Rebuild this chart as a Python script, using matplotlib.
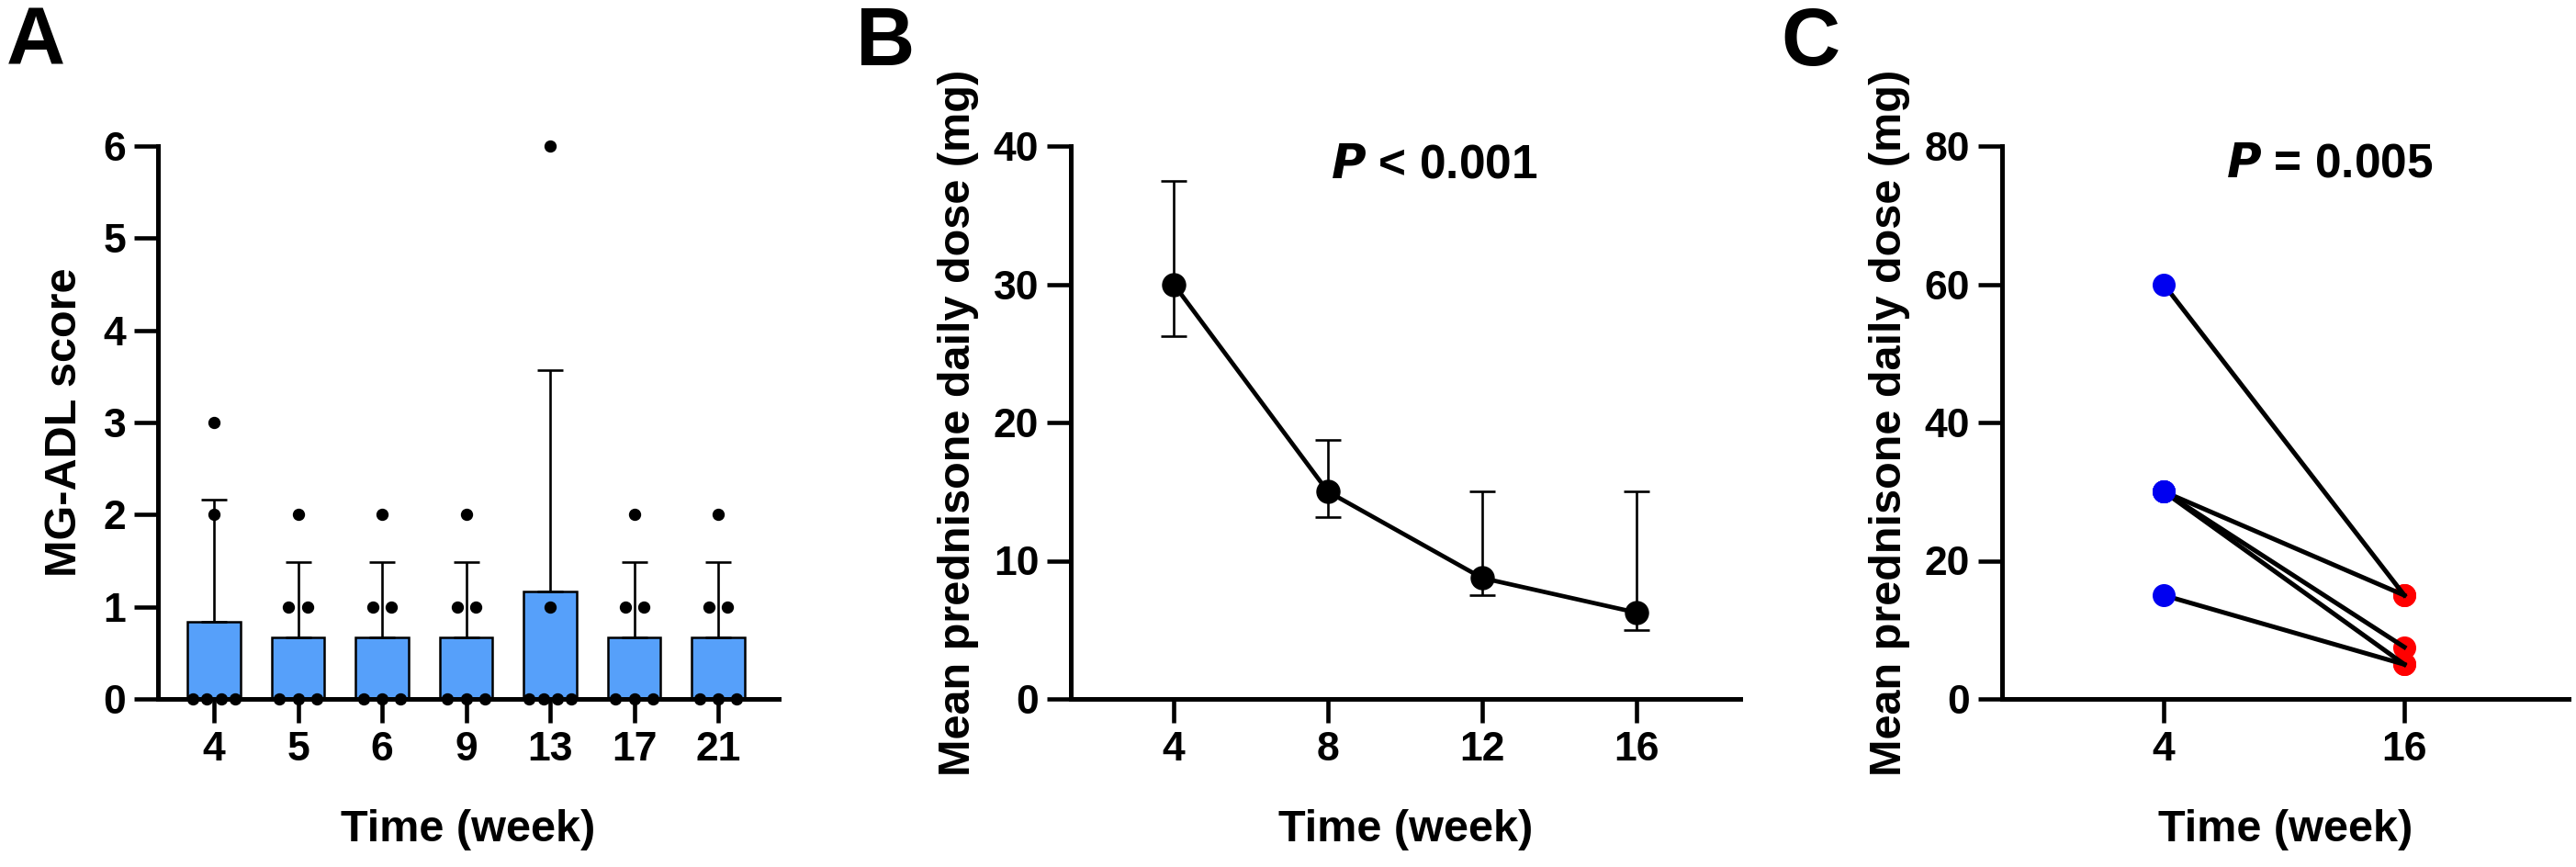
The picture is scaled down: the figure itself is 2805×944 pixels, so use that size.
import numpy as np
import matplotlib
matplotlib.use('Agg')
import matplotlib.pyplot as plt

plt.rcParams['font.family'] = ['Liberation Sans', 'DejaVu Sans']
plt.rcParams['font.weight'] = 'bold'

# panel A: MG-ADL score of each patient per week
weeks_a = ['4', '5', '6', '9', '13', '17', '21']
mg_adl_scores = [
    [0, 0, 0, 0, 2, 3],
    [0, 0, 0, 1, 1, 2],
    [0, 0, 0, 1, 1, 2],
    [0, 0, 0, 1, 1, 2],
    [0, 0, 0, 0, 1, 6],
    [0, 0, 0, 1, 1, 2],
    [0, 0, 0, 1, 1, 2],
]

# panel B: prednisone dose (centre + error range)
weeks_b = [4, 8, 12, 16]
dose_center = [30, 15, 8.75, 6.25]
dose_low = [26.25, 13.125, 7.5, 5]
dose_high = [37.5, 18.75, 15, 15]

# panel C: paired doses, week 4 vs week 16
weeks_c = ['4', '16']
dose_wk4 = [60, 30, 30, 30, 15]
dose_wk16 = [15, 15, 7.5, 5, 5]

bar_color = '#56A0FA'
spine_w = 3.6
tick_fs = 32
label_fs = 35

fig = plt.figure(figsize=(28.05, 9.44), dpi=100)
H = 944.0
W = 2805.0
y_bot, y_top = 761, 159


def make_ax(x0, x1):
    ax = fig.add_axes([x0 / W, (H - y_bot) / H, (x1 - x0) / W, (y_bot - y_top) / H])
    for s in ['top', 'right']:
        ax.spines[s].set_visible(False)
    for s in ['left', 'bottom']:
        ax.spines[s].set_linewidth(spine_w)
    ax.tick_params(width=3.3, length=19, labelsize=tick_fs, pad=6)
    return ax


# ---- A ----
axA = make_ax(172, 848)
xa = np.arange(len(weeks_a))
means = np.array([np.mean(v) for v in mg_adl_scores])
sds = np.array([np.std(v, ddof=1) for v in mg_adl_scores])
axA.bar(xa, means, width=0.63, color=bar_color, edgecolor='black', linewidth=1.8, zorder=2)
axA.errorbar(xa, means, yerr=[np.zeros_like(sds), sds], fmt='none', ecolor='black',
             elinewidth=1.9, capsize=10, capthick=1.9, zorder=3)
for i, vals in enumerate(mg_adl_scores):
    for v in sorted(set(vals)):
        n = vals.count(v)
        step = min(0.22, 0.66 / n)
        offs = (np.arange(n) - (n - 1) / 2) * step
        axA.plot(i + offs, [v] * n, 'o', color='black', markersize=8.6, zorder=5, clip_on=False)
axA.set_xlim(-0.667, 6.72)
axA.set_ylim(0, 6)
axA.set_xticks(xa)
axA.set_xticklabels(weeks_a, fontweight='bold')
axA.set_yticks(range(0, 7))
axA.set_yticklabels([str(t) for t in range(0, 7)], fontweight='bold')
axA.set_xlabel('Time (week)', fontsize=label_fs, fontweight='bold', labelpad=32)
axA.set_ylabel('MG-ADL score', fontsize=label_fs, fontweight='bold', labelpad=14)

# ---- B ----
axB = make_ax(1166, 1895)
yerr_b = [np.array(dose_center) - np.array(dose_low), np.array(dose_high) - np.array(dose_center)]
axB.errorbar(weeks_b, dose_center, yerr=yerr_b, fmt='none', ecolor='black',
             elinewidth=1.9, capsize=10, capthick=1.9, zorder=2)
axB.plot(weeks_b, dose_center, '-o', color='black', linewidth=3.4, markersize=18, zorder=3)
axB.set_xlim(1.33, 18.7)
axB.set_ylim(0, 40)
axB.set_xticks(weeks_b)
axB.set_xticklabels([str(w) for w in weeks_b], fontweight='bold')
axB.set_yticks(range(0, 41, 10))
axB.set_yticklabels([str(t) for t in range(0, 41, 10)], fontweight='bold')
axB.set_xlabel('Time (week)', fontsize=label_fs, fontweight='bold', labelpad=32)
axB.set_ylabel('Mean prednisone daily dose (mg)', fontsize=label_fs, fontweight='bold', labelpad=11)
axB.text(10.75, 37.7, r'$\bfit{P}$ < 0.001', fontsize=37, fontweight='bold', ha='center', va='baseline')

# ---- C ----
axC = make_ax(2180, 2797)
for a, b in zip(dose_wk4, dose_wk16):
    axC.plot([0, 1], [a, b], '-', color='black', linewidth=3.6, zorder=3)
axC.plot([1] * len(dose_wk16), dose_wk16, 'o', color='#FF0000', markersize=17, zorder=2, clip_on=False)
axC.plot([0] * len(dose_wk4), dose_wk4, 'o', color='#0000F0', markersize=17, zorder=4, clip_on=False)
axC.set_xlim(-0.672, 1.683)
axC.set_ylim(0, 80)
axC.set_xticks([0, 1])
axC.set_xticklabels(weeks_c, fontweight='bold')
axC.set_yticks(range(0, 81, 20))
axC.set_yticklabels([str(t) for t in range(0, 81, 20)], fontweight='bold')
axC.set_xlabel('Time (week)', fontsize=label_fs, fontweight='bold', labelpad=32)
axC.set_ylabel('Mean prednisone daily dose (mg)', fontsize=label_fs, fontweight='bold', labelpad=11)
axC.text(0.69, 75.5, r'$\bfit{P}$ = 0.005', fontsize=37, fontweight='bold', ha='center', va='baseline')

# panel letters
for letter, xpx in [('A', 7), ('B', 932), ('C', 1939)]:
    fig.text(xpx / W, 1 - 71 / H, letter, fontsize=64, fontweight='bold', ha='left', va='baseline')

fig.savefig('out.png', dpi=100)
